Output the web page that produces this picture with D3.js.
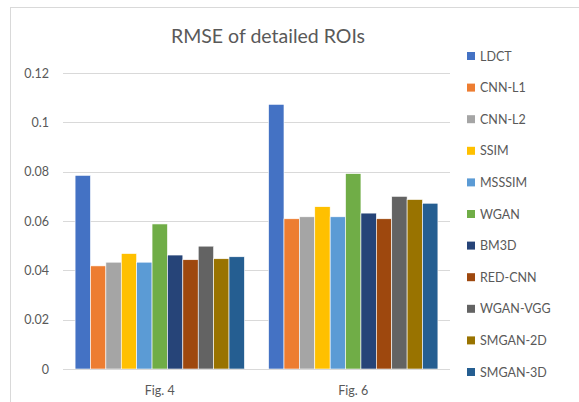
<!DOCTYPE html>
<html>
<head>
<script src="https://cdn.jsdelivr.net/npm/d3@7"></script>
<style>
  body { margin: 0; background: #fff; }
  text { font-family: Lato, "Liberation Sans", sans-serif; fill: #595959; }
</style>
</head>
<body>
<script>
const groups = ["Fig. 4", "Fig. 6"];
const methods = ["LDCT", "CNN-L1", "CNN-L2", "SSIM", "MSSSIM", "WGAN", "BM3D", "RED-CNN", "WGAN-VGG", "SMGAN-2D", "SMGAN-3D"];
const fig4 = [0.0785, 0.0418, 0.0433, 0.0468, 0.0433, 0.0588, 0.0462, 0.0443, 0.0498, 0.0447, 0.0455];
const fig6 = [0.1073, 0.0609, 0.0617, 0.0658, 0.0617, 0.0792, 0.0632, 0.0609, 0.0700, 0.0687, 0.0672];
const yTicks = [0, 0.02, 0.04, 0.06, 0.08, 0.1, 0.12];
const yTickLabels = ["0", "0.02", "0.04", "0.06", "0.08", "0.1", "0.12"];
const colors = ["#4472c4", "#ed7d31", "#a5a5a5", "#ffc000", "#5b9bd5", "#70ad47",
                "#264478", "#9e480e", "#636363", "#997300", "#255e91"];

const series = [fig4, fig6];
const w = 579, h = 402;
const margin = {left: 63, right: 129, top: 73, bottom: 33};

const svg = d3.select("body").append("svg")
    .attr("width", w)
    .attr("height", h);

// chart frame
svg.append("rect")
    .attr("x", 10.5).attr("y", 7.5)
    .attr("width", w).attr("height", h)
    .attr("fill", "none")
    .attr("stroke", "#d9d9d9");

const x0 = d3.scaleBand()
    .domain(groups)
    .range([margin.left, w - margin.right])
    .paddingInner(0.125)
    .paddingOuter(0.0625);
const x1 = d3.scaleBand()
    .domain(methods)
    .range([0, x0.bandwidth()]);
const y = d3.scaleLinear()
    .domain([0, 0.12])
    .range([h - margin.bottom, margin.top]);

// gridlines
svg.append("g").selectAll("line")
    .data(yTicks)
    .enter().append("line")
    .attr("x1", margin.left).attr("x2", w - margin.right)
    .attr("y1", d => Math.round(y(d)) + 0.5).attr("y2", d => Math.round(y(d)) + 0.5)
    .attr("stroke", "#d9d9d9");

const yAxis = svg.append("g")
    .attr("transform", "translate(" + margin.left + ",0)")
    .call(d3.axisLeft(y).tickValues(yTicks).tickSize(0).tickPadding(14)
        .tickFormat((d, i) => yTickLabels[i]));
yAxis.select(".domain").remove();
yAxis.selectAll("text").style("font-size", "12.5px").attr("fill", "#595959");

// bars
const grp = svg.append("g").selectAll("g")
    .data(groups)
    .enter().append("g")
    .attr("transform", d => "translate(" + x0(d) + ",0)");
grp.selectAll("rect")
    .data((g, gi) => methods.map((m, i) => ({m: m, v: series[gi][i], c: colors[i]})))
    .enter().append("rect")
    .attr("x", d => x1(d.m))
    .attr("y", d => y(d.v))
    .attr("width", x1.bandwidth())
    .attr("height", d => y(0) - y(d.v))
    .attr("fill", d => d.c)
    .attr("stroke", "#fff")
    .attr("stroke-width", 0.6);

// zero line
svg.append("line")
    .attr("x1", margin.left).attr("x2", w - margin.right)
    .attr("y1", Math.round(y(0)) + 0.5).attr("y2", Math.round(y(0)) + 0.5)
    .attr("stroke", "#d9d9d9");

const xAxis = svg.append("g")
    .attr("transform", "translate(0," + y(0) + ")")
    .call(d3.axisBottom(x0).tickSize(0).tickPadding(17));
xAxis.select(".domain").remove();
xAxis.selectAll("text").style("font-size", "12.5px").attr("fill", "#595959");

// title
svg.append("text")
    .attr("x", 268).attr("y", 43)
    .attr("text-anchor", "middle")
    .style("font-size", "19.5px")
    .text("RMSE of detailed ROIs");

// legend
const legend = svg.append("g").attr("transform", "translate(467,56)");
const item = legend.selectAll("g")
    .data(methods)
    .enter().append("g")
    .attr("transform", (d, i) => "translate(0," + (i * 31.6) + ")");
item.append("rect")
    .attr("x", 0).attr("y", -4)
    .attr("width", 8).attr("height", 8)
    .attr("fill", (d, i) => colors[i]);
item.append("text")
    .attr("x", 13).attr("y", 4.5)
    .style("font-size", "12.5px")
    .text(d => d);
</script>
</body>
</html>
